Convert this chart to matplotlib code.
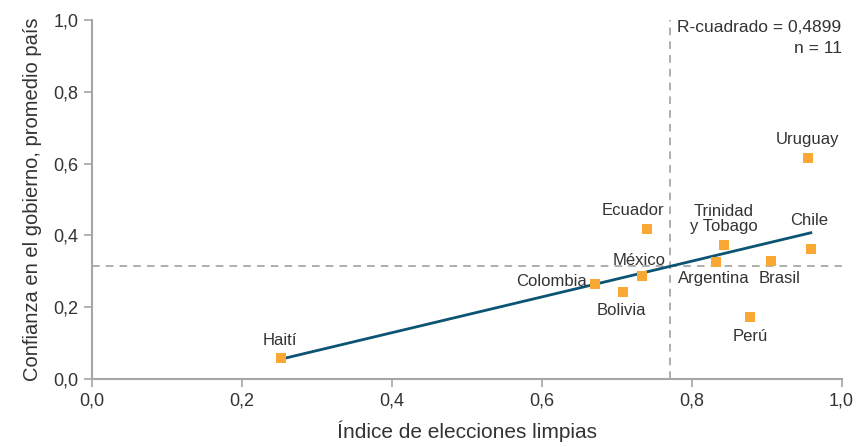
import numpy as np
import matplotlib.pyplot as plt

plt.rcParams['font.family'] = ['Liberation Sans Narrow', 'Liberation Sans', 'DejaVu Sans']

# datos
paises = ['Haití', 'Colombia', 'Bolivia', 'México', 'Ecuador', 'Trinidad\ny Tobago',
          'Argentina', 'Brasil', 'Perú', 'Uruguay', 'Chile']
elecciones = [0.253, 0.671, 0.708, 0.734, 0.740, 0.843, 0.833, 0.906, 0.878, 0.955, 0.959]
confianza = [0.060, 0.264, 0.242, 0.287, 0.418, 0.373, 0.327, 0.329, 0.174, 0.615, 0.363]

# posición de cada etiqueta respecto al punto (dx, dy en puntos, ha, va)
offsets = {
    'Haití': (-1, 7, 'center', 'bottom'),
    'Colombia': (-6, 2, 'right', 'center'),
    'Bolivia': (-1, -8, 'center', 'top'),
    'México': (-2, 6, 'center', 'bottom'),
    'Ecuador': (-10, 8, 'center', 'bottom'),
    'Trinidad\ny Tobago': (0, 8, 'center', 'bottom'),
    'Argentina': (-2, -7, 'center', 'top'),
    'Brasil': (6, -7, 'center', 'top'),
    'Perú': (0, -9, 'center', 'top'),
    'Uruguay': (0, 8, 'center', 'bottom'),
    'Chile': (-1, 15, 'center', 'bottom'),
}

gris = '#a6a6a6'
texto = '#333333'

fig = plt.figure(figsize=(8.57, 4.47), dpi=100)
ax = fig.add_axes([0.107, 0.152, 0.875, 0.803])

x = np.array(elecciones)
y = np.array(confianza)

# líneas de promedio
ax.axvline(x.mean(), color='#999999', ls=(0, (5, 4)), lw=1.1, zorder=1)
ax.axhline(y.mean(), color='#999999', ls=(0, (5, 4)), lw=1.1, zorder=1)

# recta de regresión
m, b = np.polyfit(x, y, 1)
xs = np.array([x.min(), x.max()])
ax.plot(xs, m * xs + b, color='#0b5474', lw=2, zorder=2)

ax.scatter(x, y, marker='s', s=55, color='#f9a933', zorder=3, linewidths=0)

for p, xi, yi in zip(paises, x, y):
    dx, dy, ha, va = offsets[p]
    ax.annotate(p, (xi, yi), xytext=(dx, dy), textcoords='offset points',
                ha=ha, va=va, fontsize=12, color=texto, linespacing=1.0)

ax.text(1.0, 1.0, 'R-cuadrado = 0,4899\nn = 11', transform=ax.transAxes,
        ha='right', va='top', fontsize=12.5, color=texto, linespacing=1.45)

ax.set_xlim(0, 1)
ax.set_ylim(0, 1)
ticks = [0, 0.2, 0.4, 0.6, 0.8, 1.0]
ax.set_xticks(ticks)
ax.set_yticks(ticks)
ax.set_xticklabels([f'{t:.1f}'.replace('.', ',') for t in ticks])
ax.set_yticklabels([f'{t:.1f}'.replace('.', ',') for t in ticks])
ax.tick_params(colors=gris, labelcolor=texto, labelsize=13, length=6, width=1.2)

for s in ['top', 'right']:
    ax.spines[s].set_visible(False)
for s in ['left', 'bottom']:
    ax.spines[s].set_color(gris)
    ax.spines[s].set_linewidth(1.5)

ax.set_xlabel('Índice de elecciones limpias', fontsize=15, color=texto, labelpad=8)
ax.set_ylabel('Confianza en el gobierno, promedio país', fontsize=14.5, color=texto, labelpad=8)

fig.savefig('out.png', dpi=100)
